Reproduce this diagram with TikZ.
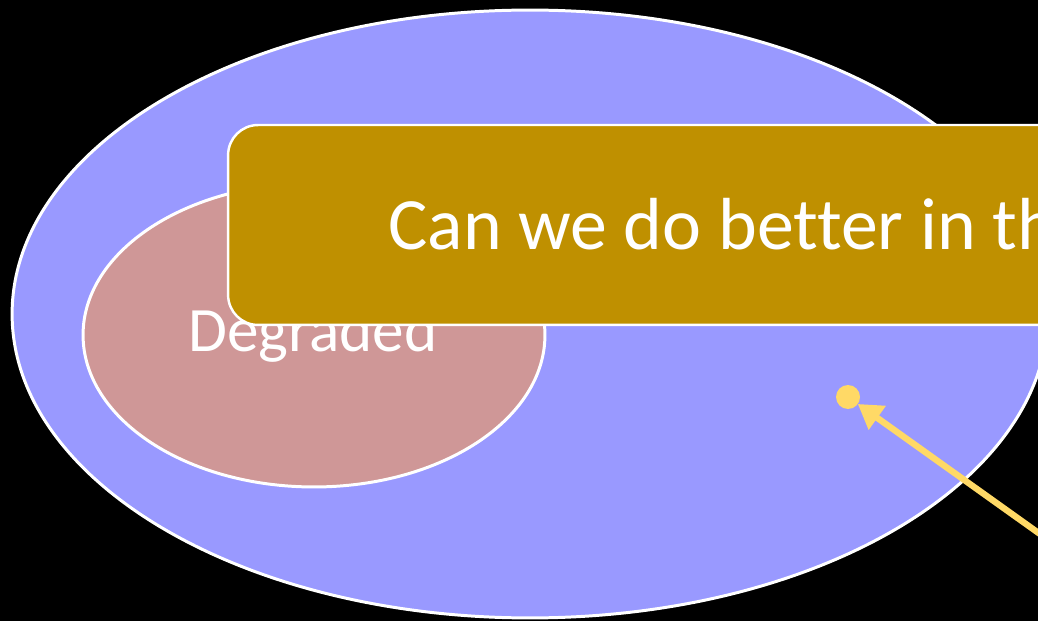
\documentclass[tikz,border=0pt]{standalone}
\usepackage{fontspec}
\setmainfont{Carlito}[Ligatures={NoCommon,NoRequired}]
\usetikzlibrary{shapes.geometric,arrows.meta}
\definecolor{setblue}{HTML}{9999FF}
\definecolor{setpink}{HTML}{CF9797}
\definecolor{boxgold}{HTML}{BF9000}
\definecolor{dotyellow}{HTML}{FFD966}
\begin{document}
\begin{tikzpicture}[x=0.02cm,y=-0.02cm]
  \tikzset{setellipse/.style={ellipse,draw=white,line width=1.7pt,inner sep=0pt}}
  \tikzset{setlabel/.style={anchor=base west,text=white,inner sep=0pt}}
  \tikzset{questionbox/.style={rectangle,rounded corners=0.6cm,draw=white,line width=1.4pt,fill=boxgold,inner sep=0pt}}
  \tikzset{pointer/.style={draw=dotyellow,line width=3.6pt,-{Triangle[length=0.48cm,width=0.56cm]}}}

  \fill[black] (0,0) rectangle (1038,621);
  \useasboundingbox (0,0) rectangle (1038,621);
  \clip (0,0) rectangle (1038,621);

  \node[setellipse,fill=setblue,minimum width=20.72cm,minimum height=12.16cm] (all) at (530,314) {};
  \node[setellipse,fill=setpink,minimum width=9.24cm,minimum height=6.08cm] (degraded) at (314,335) {};
  \node[setlabel,font=\fontsize{36}{43}\selectfont] (degradedtext) at (188,352) {Degraded};

  \node[questionbox,minimum width=23.44cm,minimum height=4cm] (question) at (814,225) {};
  \node[setlabel,font=\fontsize{42}{50}\selectfont] (questiontext) at (388,250) {Can we do better in th};

  \node[circle,fill=dotyellow,minimum size=0.48cm,inner sep=0pt] (point) at (848,397) {};
  \coordinate (pointerstart) at (1110,584);
  \draw[pointer,shorten >=0.24cm] (pointerstart) -- (point.center);
\end{tikzpicture}
\end{document}
